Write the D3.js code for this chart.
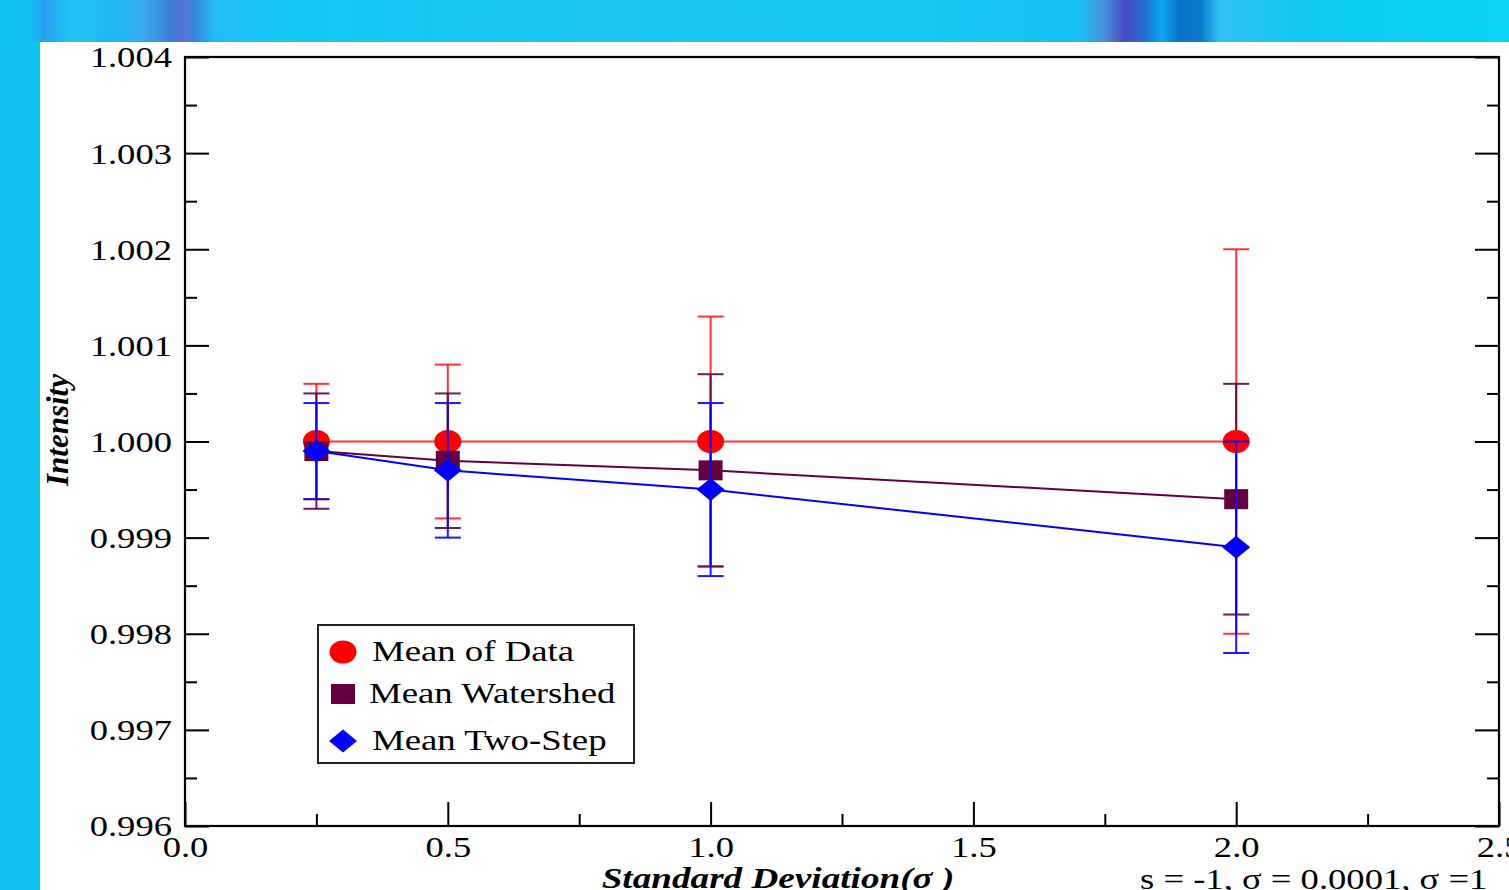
<!DOCTYPE html>
<html>
<head>
<meta charset="utf-8">
<script src="https://cdn.jsdelivr.net/npm/d3@7"></script>
<style>
  html, body { margin: 0; padding: 0; background: #fff; overflow: hidden; }
  svg { display: block; }
  text { font-family: "Liberation Serif", "Times New Roman", serif; fill: #000; }
</style>
</head>
<body>
<svg id="chart" width="1509" height="890"></svg>
<script>
// ---- data ----
const xValues = [0.25, 0.5, 1.0, 2.0];
const dataMean = [1.0000, 1.0000, 1.0000, 1.0000];
const dataErr = [0.0006, 0.0008, 0.0013, 0.0020];
const watershedMean = [0.9999, 0.9998, 0.9997, 0.9994];
const watershedErr = [0.0006, 0.0007, 0.0010, 0.0012];
const twoStepMean = [0.9999, 0.9997, 0.9995, 0.9989];
const twoStepErr = [0.0005, 0.0007, 0.0009, 0.0011];
const seriesNames = ["Mean of Data", "Mean Watershed", "Mean Two-Step"];
const xMajorTicks = [0.0, 0.5, 1.0, 1.5, 2.0, 2.5];
const xMinorTicks = [0.25, 0.75, 1.25, 1.75, 2.25];
const yMajorTicks = [0.996, 0.997, 0.998, 0.999, 1.000, 1.001, 1.002, 1.003, 1.004];
const yMinorTicks = [0.9965, 0.9975, 0.9985, 0.9995, 1.0005, 1.0015, 1.0025, 1.0035];
const xTitle = "Standard Deviation(σ )";
const yTitle = "Intensity";
const note = "s = -1, σ = 0.0001, σ =1";

(function () {
const svg = d3.select("#chart");
const W = 1509, H = 890;
const SX = 1.22; // horizontal text stretch of the original

// ---- background ----
const defs = svg.append("defs");
const g = defs.append("linearGradient").attr("id", "bg").attr("x1", 0).attr("x2", 1).attr("y1", 0).attr("y2", 0);
[[0, "#0ec4ef"], [30, "#10c0f0"], [45, "#2a9ff0"], [70, "#1ec4f4"], [120, "#22b6f4"], [145, "#3aa8ec"],
 [170, "#3a80d8"], [182, "#5a70d8"], [195, "#3488dc"], [215, "#22bcf6"], [300, "#10c8f4"], [600, "#1cc4f2"],
 [900, "#14c8f2"], [1080, "#18c0f4"], [1105, "#4a90dc"], [1125, "#4848c0"], [1145, "#2070d0"],
 [1162, "#0aa8f0"], [1180, "#0a70c4"], [1200, "#0a78c8"], [1220, "#30c0f8"], [1300, "#10c8f0"],
 [1509, "#0ad4f4"]].forEach(([p, c]) => g.append("stop").attr("offset", p / W).attr("stop-color", c));
svg.append("rect").attr("width", W).attr("height", H).attr("fill", "url(#bg)");
svg.append("rect").attr("x", 0).attr("y", 42).attr("width", 40).attr("height", H - 42).attr("fill", "#0fc2ef");
svg.append("rect").attr("x", 40).attr("y", 42).attr("width", W - 40).attr("height", H - 42).attr("fill", "#ffffff");

// ---- scales ----
const pLeft = 185, pRight = 1499, pTop = 57, pBottom = 826;
const x = d3.scaleLinear().domain([0, 2.5]).range([pLeft, pRight]);
const y = d3.scaleLinear().domain([0.996, 1.004]).range([pBottom, pTop]);

// ---- axes ----
function styleAxis(sel) {
  sel.select(".domain").remove();
  sel.selectAll(".tick line").attr("stroke", "#000").attr("stroke-width", 2);
}
const gl = svg.append("g").attr("transform", `translate(${pLeft},0)`)
  .call(d3.axisLeft(y).tickValues(yMajorTicks).tickSize(-24).tickPadding(12).tickFormat(d3.format(".3f")));
styleAxis(gl);
gl.selectAll(".tick text").attr("font-size", 30).attr("dy", "0.33em")
  .attr("transform", `scale(${SX},1)`).attr("x", -13 / SX)
  .style("font-family", '"Liberation Serif", "Times New Roman", serif');
svg.append("g").attr("transform", `translate(${pLeft},0)`)
  .call(d3.axisLeft(y).tickValues(yMinorTicks).tickSize(-12).tickFormat("")).call(styleAxis);
svg.append("g").attr("transform", `translate(${pRight},0)`)
  .call(d3.axisRight(y).tickValues(yMajorTicks).tickSize(-24).tickFormat("")).call(styleAxis);
svg.append("g").attr("transform", `translate(${pRight},0)`)
  .call(d3.axisRight(y).tickValues(yMinorTicks).tickSize(-12).tickFormat("")).call(styleAxis);

const gb = svg.append("g").attr("transform", `translate(0,${pBottom})`)
  .call(d3.axisBottom(x).tickValues(xMajorTicks).tickSize(-24).tickPadding(10).tickFormat(d3.format(".1f")));
styleAxis(gb);
gb.selectAll(".tick text").attr("font-size", 30).attr("transform", `scale(${SX},1)`)
  .style("font-family", '"Liberation Serif", "Times New Roman", serif');
svg.append("g").attr("transform", `translate(0,${pBottom})`)
  .call(d3.axisBottom(x).tickValues(xMinorTicks).tickSize(-12).tickFormat("")).call(styleAxis);

// frame
svg.append("rect").attr("x", pLeft).attr("y", pTop).attr("width", pRight - pLeft).attr("height", pBottom - pTop)
  .attr("fill", "none").attr("stroke", "#000").attr("stroke-width", 2.2);

// ---- titles ----
svg.append("text").attr("transform", `translate(68,430) rotate(-90)`).attr("text-anchor", "middle")
  .attr("font-size", 31).attr("font-weight", "bold").attr("font-style", "italic").text(yTitle);
svg.append("text").attr("transform", `translate(778,888) scale(1.24,1)`).attr("text-anchor", "middle")
  .attr("font-size", 30).attr("font-weight", "bold").attr("font-style", "italic").text(xTitle);
svg.append("text").attr("transform", `translate(1140,889) scale(${SX},1)`).attr("text-anchor", "start")
  .attr("font-size", 30).text(note);

// ---- series ----
const colors = ["#ff0000", "#640040", "#0000ff"];
const series = [
  { mean: dataMean, err: dataErr, color: colors[0], shape: "circle" },
  { mean: watershedMean, err: watershedErr, color: colors[1], shape: "square" },
  { mean: twoStepMean, err: twoStepErr, color: colors[2], shape: "diamond" }
].map(s => ({ ...s, pts: xValues.map((xv, i) => ({ x: xv, m: s.mean[i], e: s.err[i] })) }));

const plot = svg.append("g");
const line = d3.line().x(d => x(d.x)).y(d => y(d.m));

function drawLine(s) {
  plot.append("path").datum(s.pts).attr("d", line).attr("fill", "none")
    .attr("stroke", s.color).attr("stroke-width", 2).attr("stroke-opacity", s.shape === "circle" ? 0.8 : 1);
}
function drawBars(s) {
  const gg = plot.append("g").attr("stroke", s.color).attr("stroke-width", 2)
    .attr("stroke-opacity", s.shape === "circle" ? 0.8 : 0.9);
  gg.selectAll(".v").data(s.pts).join("line").attr("class", "v")
    .attr("x1", d => x(d.x)).attr("x2", d => x(d.x)).attr("y1", d => y(d.m + d.e)).attr("y2", d => y(d.m - d.e));
  gg.selectAll(".t").data(s.pts).join("line").attr("class", "t")
    .attr("x1", d => x(d.x) - 13).attr("x2", d => x(d.x) + 13).attr("y1", d => y(d.m + d.e)).attr("y2", d => y(d.m + d.e));
  gg.selectAll(".b").data(s.pts).join("line").attr("class", "b")
    .attr("x1", d => x(d.x) - 13).attr("x2", d => x(d.x) + 13).attr("y1", d => y(d.m - d.e)).attr("y2", d => y(d.m - d.e));
}
function markerPath(shape, cx, cy) {
  if (shape === "circle") {
    const rx = 13.5, ry = 11.5;
    return `M${cx - rx},${cy}A${rx},${ry} 0 1,0 ${cx + rx},${cy}A${rx},${ry} 0 1,0 ${cx - rx},${cy}Z`;
  }
  if (shape === "square") return `M${cx - 12},${cy - 10}h24v20h-24Z`;
  return `M${cx},${cy - 11.5}L${cx + 14},${cy}L${cx},${cy + 11.5}L${cx - 14},${cy}Z`;
}
function drawMarkers(s) {
  plot.append("g").selectAll("path").data(s.pts).join("path")
    .attr("d", d => markerPath(s.shape, x(d.x), y(d.m))).attr("fill", s.color);
}

series.forEach(drawLine);
drawBars(series[0]);
drawBars(series[1]);
drawMarkers(series[0]);
drawMarkers(series[1]);
drawBars(series[2]);
drawMarkers(series[2]);

// ---- legend ----
const lg = svg.append("g");
lg.append("rect").attr("x", 318).attr("y", 625).attr("width", 316).attr("height", 138)
  .attr("fill", "#fff").attr("stroke", "#222").attr("stroke-width", 2);
const legY = [652, 694, 741];
const legTextX = [372, 369, 372];
series.forEach((s, i) => {
  lg.append("path").attr("d", markerPath(s.shape, 343, legY[i])).attr("fill", s.color);
  lg.append("text").attr("transform", `translate(${legTextX[i]},${legY[i] + 9}) scale(1.29,1)`)
    .attr("font-size", 28.5).text(seriesNames[i]);
});
})();
</script>
</body>
</html>
